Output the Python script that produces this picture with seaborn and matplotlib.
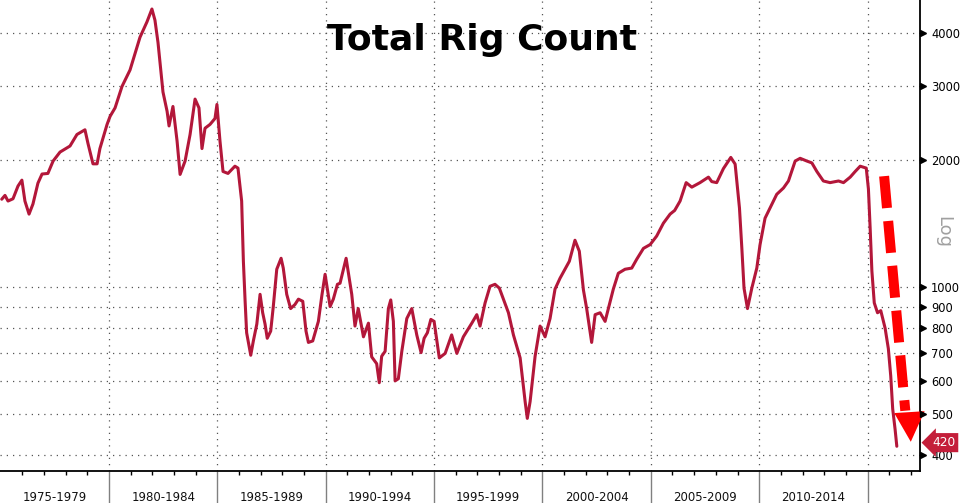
import matplotlib
matplotlib.use("Agg")
import matplotlib.pyplot as plt
import matplotlib.ticker as mticker
import matplotlib.transforms as mtrans
import matplotlib.patches as mpatches
import pandas as pd
import seaborn as sns

# ---------------- data ----------------
years = [
    1975.05, 1975.20, 1975.34, 1975.57, 1975.80, 1975.98, 1976.12, 1976.31, 1976.49, 1976.72,
    1976.91, 1977.18, 1977.42, 1977.74, 1978.20, 1978.52, 1978.89, 1979.03, 1979.26, 1979.45,
    1979.58, 1979.91, 1980.05, 1980.28, 1980.60, 1980.97, 1981.43, 1981.75, 1981.98, 1982.12,
    1982.26, 1982.49, 1982.68, 1982.77, 1982.95, 1983.14, 1983.28, 1983.51, 1983.74, 1983.97,
    1984.15, 1984.29, 1984.43, 1984.66, 1984.89, 1984.98, 1985.12, 1985.26, 1985.49, 1985.81,
    1985.95, 1986.12, 1986.20, 1986.28, 1986.35, 1986.54, 1986.66, 1986.82, 1986.97, 1987.09,
    1987.20, 1987.30, 1987.46, 1987.58, 1987.74, 1987.94, 1988.04, 1988.20, 1988.38, 1988.58,
    1988.74, 1988.94, 1989.09, 1989.20, 1989.40, 1989.66, 1989.82, 1989.97, 1990.20, 1990.35,
    1990.54, 1990.66, 1990.94, 1991.20, 1991.35, 1991.50, 1991.74, 1991.97, 1992.12, 1992.35,
    1992.47, 1992.58, 1992.74, 1992.89, 1993.00, 1993.12, 1993.20, 1993.35, 1993.51, 1993.74,
    1993.97, 1994.20, 1994.40, 1994.54, 1994.69, 1994.85, 1995.00, 1995.24, 1995.51, 1995.81,
    1996.05, 1996.35, 1996.74, 1996.97, 1997.12, 1997.35, 1997.58, 1997.81, 1998.01, 1998.20,
    1998.43, 1998.66, 1998.97, 1999.20, 1999.30, 1999.43, 1999.66, 1999.89, 2000.12, 2000.35,
    2000.58, 2000.81, 2001.04, 2001.24, 2001.50, 2001.70, 2001.89, 2002.04, 2002.27, 2002.43,
    2002.66, 2002.89, 2003.04, 2003.27, 2003.50, 2003.81, 2004.12, 2004.35, 2004.66, 2004.97,
    2005.27, 2005.58, 2005.89, 2006.10, 2006.35, 2006.63, 2006.89, 2007.27, 2007.66, 2007.81,
    2008.04, 2008.35, 2008.58, 2008.69, 2008.89, 2009.09, 2009.20, 2009.30, 2009.46, 2009.66,
    2009.89, 2010.04, 2010.27, 2010.58, 2010.81, 2011.12, 2011.35, 2011.66, 2011.89, 2012.20,
    2012.43, 2012.66, 2012.96, 2013.27, 2013.66, 2013.89, 2014.20, 2014.43, 2014.66, 2014.94,
    2015.04, 2015.12, 2015.20, 2015.31, 2015.46, 2015.61, 2015.81, 2015.96, 2016.07, 2016.16,
    2016.27, 2016.35,
]
rigs = [
    1616, 1650, 1600, 1620, 1736, 1793, 1600, 1490, 1574, 1764,
    1854, 1860, 1990, 2090, 2160, 2300, 2360, 2190, 1960, 1960,
    2130, 2430, 2540, 2660, 2990, 3270, 3910, 4250, 4560, 4290,
    3800, 2900, 2610, 2410, 2680, 2220, 1850, 1990, 2300, 2790,
    2660, 2130, 2380, 2430, 2510, 2710, 2220, 1880, 1860, 1935,
    1915, 1600, 1152, 926, 780, 690, 746, 818, 962, 870,
    818, 757, 787, 900, 1103, 1171, 1110, 962, 890, 910,
    937, 926, 787, 740, 746, 830, 955, 1073, 900, 937,
    1016, 1022, 1171, 962, 809, 890, 763, 822, 684, 659,
    594, 686, 705, 890, 933, 830, 600, 607, 705, 843,
    890, 771, 700, 757, 780, 839, 830, 680, 697, 771,
    697, 763, 822, 861, 809, 917, 1005, 1016, 995, 937,
    870, 771, 680, 536, 489, 536, 686, 809, 763, 843,
    990, 1050, 1103, 1152, 1292, 1217, 985, 890, 740, 861,
    870, 830, 890, 990, 1079, 1103, 1110, 1165, 1236, 1262,
    1322, 1418, 1490, 1520, 1600, 1769, 1726, 1769, 1823, 1779,
    1769, 1910, 1990, 2030, 1957, 1540, 1236, 995, 890, 995,
    1110, 1262, 1457, 1571, 1660, 1718, 1785, 1990, 2020, 1990,
    1970, 1880, 1785, 1769, 1785, 1769, 1823, 1880, 1935, 1915,
    1709, 1380, 1092, 918, 870, 880, 800, 715, 616, 515,
    461, 420,
]
period_starts = [1975, 1980, 1985, 1990, 1995, 2000, 2005, 2010]
period_labels = ["1975-1979", "1980-1984", "1985-1989", "1990-1994",
                 "1995-1999", "2000-2004", "2005-2009", "2010-2014"]
divider_years = [1980, 1985, 1990, 1995, 2000, 2005, 2010, 2015]
y_ticks = [400, 500, 600, 700, 800, 900, 1000, 2000, 3000, 4000]
title_text = "Total Rig Count"
scale_text = "Log"
last_label = "420"

# ---------------- styling ----------------
sns.set_style("white")
plt.rcParams['font.family'] = ['DejaVu Sans']

W, H = 967, 503
fig = plt.figure(figsize=(W / 100, H / 100), dpi=100)
ax = fig.add_axes([0, 32 / H, 920 / W, 471 / H])

df = pd.DataFrame({"year": years, "rigs": rigs})
sns.lineplot(data=df, x="year", y="rigs", ax=ax, color="#B3173A",
             lw=2.2, estimator=None, zorder=4)

ax.set_yscale("log")
ax.set_ylim(367, 4790)
ax.set_xlim(1974.97, 2017.42)
ax.set_xlabel("")
ax.set_ylabel("")

# spines
for s in ["top", "left"]:
    ax.spines[s].set_visible(False)
for s in ["right", "bottom"]:
    ax.spines[s].set_color("black")
    ax.spines[s].set_linewidth(1.3)

# y axis on the right
ax.yaxis.tick_right()
ax.set_yticks(y_ticks)
ax.yaxis.set_major_formatter(mticker.FuncFormatter(lambda v, p: f"{int(round(v))}"))
ax.yaxis.set_minor_locator(mticker.NullLocator())
ax.tick_params(axis="y", which="major", length=0, pad=8, labelsize=8.3,
               labelcolor="black")

# triangle tick markers
ttrans = mtrans.blended_transform_factory(ax.transAxes, ax.transData) + \
    mtrans.ScaledTranslation(3 / 100, 0, fig.dpi_scale_trans)
ax.plot([1.0] * len(y_ticks), y_ticks, linestyle="none", marker=">",
        markersize=5, color="black", transform=ttrans, clip_on=False, zorder=6)

# x axis
ax.set_xticks(divider_years)
ax.set_xticks(list(range(1976, 2018)), minor=True)
ax.tick_params(axis="x", which="major", bottom=True, length=23, width=1,
               color="#808080", labelbottom=False, direction="out")
ax.tick_params(axis="x", which="minor", bottom=True, length=3, width=1,
               color="black", direction="out", labelbottom=False)

# grid
ax.grid(True, which="major", axis="both", linestyle=(0, (1, 4)),
        color="#555555", lw=0.9)

# period labels
ltrans = mtrans.blended_transform_factory(ax.transData, ax.transAxes)
for s, lab in zip(period_starts, period_labels):
    ax.text(s + 2.5, -0.057, lab, transform=ltrans, ha="center", va="center",
            fontsize=8.5, color="#111111", clip_on=False)

# title and scale tag
fig.text(482 / W, 1 - 40 / H, title_text, ha="center", va="center",
         fontsize=26, fontweight="bold", color="black")
fig.text(943 / W, 1 - 232 / H, scale_text, ha="center", va="center",
         rotation=270, fontsize=13, color="#a0a0a0")

# red dashed arrow
ax.plot([0.961, 0.984], [0.626, 0.128], transform=ax.transAxes, color="#ff0000",
        lw=7.2, linestyle=(0, (3.2, 1.3)), dash_capstyle="butt",
        clip_on=False, zorder=5)
ax.add_patch(mpatches.Polygon([[0.972, 0.123], [1.005, 0.127], [0.990, 0.062]],
                              closed=True, transform=ax.transAxes, fc="#ff0000",
                              ec="none", clip_on=False, zorder=5))

# last-value tag
vtrans = mtrans.blended_transform_factory(ax.transAxes, ax.transData)
ax.text(1.013, rigs[-1] * 1.02, last_label, transform=vtrans, ha="left",
        va="center", color="white", fontsize=8.8, zorder=10, clip_on=False,
        bbox=dict(boxstyle="larrow,pad=0.25", fc="#C41E3A", ec="none"))

fig.savefig("out.png", dpi=100)
